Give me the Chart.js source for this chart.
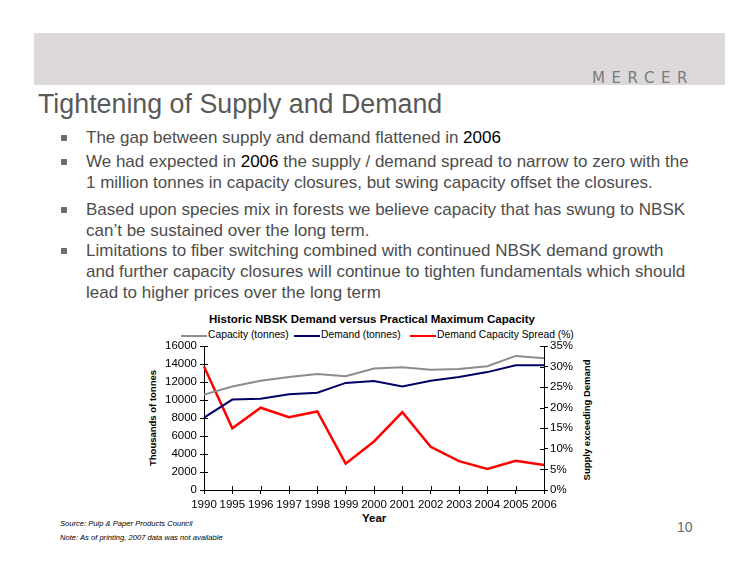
<!DOCTYPE html>
<html><head><meta charset="utf-8">
<script src="https://cdn.jsdelivr.net/npm/chart.js@4.4.0/dist/chart.umd.min.js"></script>
<style>
html,body{margin:0;padding:0;background:#fff;}
body{width:750px;height:578px;position:relative;overflow:hidden;font-family:"Liberation Sans",Arial,sans-serif;}
.abs{position:absolute;white-space:nowrap;}
#banner{left:34px;top:33px;width:691px;height:52px;background:#dcd8dc;}
#logo{left:592px;top:69px;font-family:"DejaVu Sans",sans-serif;font-size:15px;letter-spacing:6.6px;color:#7a7a7a;}
#title{left:38px;top:89px;font-size:26.8px;color:#595959;}
.bl{left:86px;font-size:17px;color:#4d4d4d;line-height:21px;}
.bl b{font-weight:normal;color:#000;}
.sq{width:6px;height:6px;background:#6e6e6e;left:61px;}
#ctitle{left:140px;width:464px;text-align:center;top:313px;font-size:11.5px;font-weight:bold;color:#000;}
.leg{top:329px;font-size:10.3px;color:#000;}
.legl{top:335px;height:2px;width:26px;}
.rot{transform-origin:center center;transform:translate(-50%,-50%) rotate(-90deg);font-size:9.5px;font-weight:bold;color:#000;}
#year{left:362px;top:512px;font-size:11.5px;font-weight:bold;}
.note{left:60px;font-size:7.6px;font-style:italic;color:#000;}
#pnum{left:677px;top:519px;font-size:14px;color:#6a6a6a;}
#cwrap{position:absolute;left:130px;top:336px;width:490px;height:194px;}
</style></head>
<body>
<div class="abs" id="banner"></div>
<div class="abs" id="logo">MERCER</div>
<div class="abs" id="title">Tightening of Supply and Demand</div>

<div class="abs sq" style="top:135px"></div>
<div class="abs bl" style="top:127px">The gap between supply and demand flattened in <b>2006</b></div>
<div class="abs sq" style="top:159px"></div>
<div class="abs bl" style="top:151px">We had expected in <b>2006</b> the supply / demand spread to narrow to zero with the<br>1 million tonnes in capacity closures, but swing capacity offset the closures.</div>
<div class="abs sq" style="top:207px"></div>
<div class="abs bl" style="top:199px">Based upon species mix in forests we believe capacity that has swung to NBSK<br>can’t be sustained over the long term.</div>
<div class="abs sq" style="top:248px"></div>
<div class="abs bl" style="top:240px">Limitations to fiber switching combined with continued NBSK demand growth<br>and further capacity closures will continue to tighten fundamentals which should<br>lead to higher prices over the long term</div>

<div class="abs" id="ctitle">Historic NBSK Demand versus Practical Maximum Capacity</div>
<div class="abs legl" style="left:181px;background:#8c8c8c"></div>
<div class="abs leg" style="left:208px">Capacity (tonnes)</div>
<div class="abs legl" style="left:294px;background:#000066"></div>
<div class="abs leg" style="left:321px">Demand (tonnes)</div>
<div class="abs legl" style="left:410px;background:#ff0000"></div>
<div class="abs leg" style="left:437px">Demand Capacity Spread (%)</div>

<div class="abs rot" style="left:152px;top:418px">Thousands of tonnes</div>
<div class="abs rot" style="left:586px;top:420px">Supply exceeding Demand</div>
<div class="abs" id="year">Year</div>
<div class="abs note" style="top:519px">Source: Pulp &amp; Paper Products Council</div>
<div class="abs note" style="top:533px">Note: As of printing, 2007 data was not available</div>
<div class="abs" id="pnum">10</div>

<div id="cwrap"><canvas id="c"></canvas></div>
<script>
const years = ["1990","1995","1996","1997","1998","1999","2000","2001","2002","2003","2004","2005","2006"];
const capacity = [10600,11500,12150,12550,12900,12650,13500,13650,13350,13450,13750,14900,14650];
const demand = [8050,10050,10150,10650,10800,11900,12100,11500,12150,12550,13100,13850,13850];
const spread = [30.0,15.0,20.0,17.7,19.1,6.4,11.8,18.9,10.5,7.0,5.1,7.1,6.1];
const leftTicks = {min:0, max:16000, step:2000};
const rightTicks = {min:0, max:35, step:5};

const innerTicks = {
  id:'innerTicks',
  afterDraw(chart){
    const ctx = chart.ctx, a = chart.chartArea;
    ctx.save(); ctx.strokeStyle='#000'; ctx.lineWidth=1; ctx.beginPath();
    const sy = chart.scales.y, sy2 = chart.scales.y2, sx = chart.scales.x;
    sy.ticks.forEach(t=>{const p=Math.round(sy.getPixelForValue(t.value))+0.5; ctx.moveTo(a.left,p); ctx.lineTo(a.left+4,p);});
    sy2.ticks.forEach(t=>{const p=Math.round(sy2.getPixelForValue(t.value))+0.5; ctx.moveTo(a.right,p); ctx.lineTo(a.right-4,p);});
    years.forEach((y,i)=>{const p=Math.round(sx.getPixelForValue(i))+0.5; ctx.moveTo(p,a.bottom); ctx.lineTo(p,a.bottom-4);});
    ctx.stroke(); ctx.restore();
  }
};

const font = {family:'"Liberation Sans", Arial, sans-serif', size:11.5};
new Chart(document.getElementById('c'), {
  type:'line',
  data:{labels:years, datasets:[
    {label:'Capacity (tonnes)', data:capacity, borderColor:'#8c8c8c', backgroundColor:'#8c8c8c', borderWidth:2, pointRadius:0, yAxisID:'y', tension:0},
    {label:'Demand (tonnes)', data:demand, borderColor:'#000066', backgroundColor:'#000066', borderWidth:2, pointRadius:0, yAxisID:'y', tension:0},
    {label:'Demand Capacity Spread (%)', data:spread, borderColor:'#ff0000', backgroundColor:'#ff0000', borderWidth:2.5, pointRadius:0, yAxisID:'y2', tension:0}
  ]},
  options:{
    responsive:true, maintainAspectRatio:false, animation:false,
    layout:{padding:{top:10,left:0,right:0,bottom:0}},
    plugins:{legend:{display:false}, tooltip:{enabled:false}},
    scales:{
      x:{offset:false, grid:{display:true, drawOnChartArea:false, tickLength:4, color:'#000'}, border:{color:'#000', width:1},
         ticks:{color:'#000', font:font, padding:4, maxRotation:0, autoSkip:false},
         afterFit(s){s.height=40;}},
      y:{position:'left', min:leftTicks.min, max:leftTicks.max, grid:{drawOnChartArea:false, tickLength:4, color:'#000'}, border:{color:'#000',width:1},
         ticks:{stepSize:leftTicks.step, color:'#000', font:font, padding:3, callback:v=>String(v)},
         afterFit(s){s.width=74;}},
      y2:{position:'right', min:rightTicks.min, max:rightTicks.max, grid:{drawOnChartArea:false, tickLength:4, color:'#000'}, border:{color:'#000',width:1},
         ticks:{stepSize:rightTicks.step, color:'#000', font:font, padding:2, callback:v=>v+'%'},
         afterFit(s){s.width=76;}}
    }
  },
  plugins:[innerTicks]
});
</script>
</body></html>
